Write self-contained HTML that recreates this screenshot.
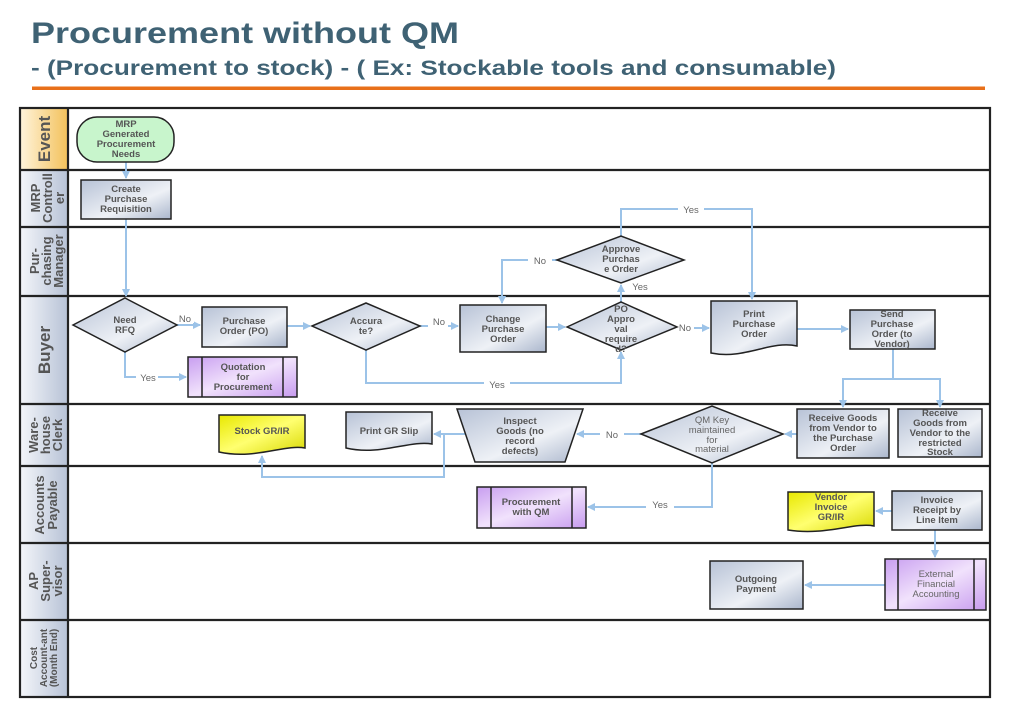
<!DOCTYPE html>
<html><head><meta charset="utf-8"><style>
html,body{margin:0;padding:0;background:#fff;}
svg{display:block;}
text{font-family:"Liberation Sans",sans-serif;}
.t{font-size:9.5px;font-weight:bold;fill:#555;text-anchor:middle;}
.l{font-size:9.5px;fill:#666;text-anchor:middle;}
.h{font-size:15px;font-weight:bold;fill:#555;text-anchor:middle;}
.c{stroke:#9cc3e8;stroke-width:2;fill:none;}
.s{stroke:#222;stroke-width:1.5;}
</style></head><body>
<svg width="1024" height="722" viewBox="0 0 1024 722" xmlns="http://www.w3.org/2000/svg">
<defs>
<linearGradient id="g" x1="0" y1="0" x2="1" y2="1"><stop offset="0" stop-color="#b7c2d6"/><stop offset="0.6" stop-color="#eef1f6"/><stop offset="1" stop-color="#aab6cc"/></linearGradient>
<linearGradient id="hd" x1="0" y1="0" x2="1" y2="0"><stop offset="0" stop-color="#f4f6fa"/><stop offset="1" stop-color="#b7c2d6"/></linearGradient>
<linearGradient id="ho" x1="0" y1="0" x2="1" y2="0"><stop offset="0" stop-color="#fff4dc"/><stop offset="1" stop-color="#f3c15a"/></linearGradient>
<linearGradient id="p" x1="0" y1="0" x2="1" y2="1"><stop offset="0" stop-color="#c89ef0"/><stop offset="0.5" stop-color="#f1e2fc"/><stop offset="1" stop-color="#c79bef"/></linearGradient>
<linearGradient id="y" x1="0" y1="0" x2="1" y2="1"><stop offset="0" stop-color="#e8e800"/><stop offset="0.5" stop-color="#ffff70"/><stop offset="1" stop-color="#d8d800"/></linearGradient>
<marker id="a" markerWidth="8" markerHeight="8" refX="7" refY="4" orient="auto" markerUnits="userSpaceOnUse"><path d="M0,0 L8,4 L0,8 z" fill="#9cc3e8"/></marker>
</defs>
<text x="31" y="43" font-size="30" font-weight="bold" fill="#3f6274" textLength="428" lengthAdjust="spacingAndGlyphs">Procurement without QM</text>
<text x="31" y="75" font-size="21" font-weight="bold" fill="#3f6274" textLength="805" lengthAdjust="spacingAndGlyphs">- (Procurement to stock) - ( Ex: Stockable tools and consumable)</text>
<rect x="32" y="86.5" width="953" height="3.5" fill="#e8701a"/>

<!-- headers -->
<rect x="20" y="108" width="48" height="62" fill="url(#ho)"/>
<rect x="20" y="170" width="48" height="527" fill="url(#hd)"/>
<g stroke="#222" stroke-width="2.2" fill="none">
<rect x="20" y="108" width="970" height="589"/>
<line x1="68" y1="108" x2="68" y2="697"/>
<line x1="20" y1="170" x2="990" y2="170"/><line x1="20" y1="227" x2="990" y2="227"/>
<line x1="20" y1="296" x2="990" y2="296"/><line x1="20" y1="404" x2="990" y2="404"/>
<line x1="20" y1="466" x2="990" y2="466"/><line x1="20" y1="543" x2="990" y2="543"/>
<line x1="20" y1="620" x2="990" y2="620"/>
</g>
<g class="h">
<text transform="translate(50,139) rotate(-90)" font-size="17">Event</text>
<text transform="translate(40,198) rotate(-90)" font-size="13">MRP</text>
<text transform="translate(52,198) rotate(-90)" font-size="13">Controll</text>
<text transform="translate(64,198) rotate(-90)" font-size="13">er</text>
<text transform="translate(39,261) rotate(-90)" font-size="13">Pur-</text>
<text transform="translate(51,261) rotate(-90)" font-size="13">chasing</text>
<text transform="translate(63,261) rotate(-90)" font-size="13">Manager</text>
<text transform="translate(50,350) rotate(-90)" font-size="17">Buyer</text>
<text transform="translate(38,435) rotate(-90)" font-size="13">Ware-</text>
<text transform="translate(50,435) rotate(-90)" font-size="13">house</text>
<text transform="translate(62,435) rotate(-90)" font-size="13">Clerk</text>
<text transform="translate(44,505) rotate(-90)" font-size="13">Accounts</text>
<text transform="translate(57,505) rotate(-90)" font-size="13">Payable</text>
<text transform="translate(38,581) rotate(-90)" font-size="13">AP</text>
<text transform="translate(50,581) rotate(-90)" font-size="13">Super-</text>
<text transform="translate(62,581) rotate(-90)" font-size="13">visor</text>
<text transform="translate(37,658) rotate(-90)" font-size="10">Cost</text>
<text transform="translate(47,658) rotate(-90)" font-size="10">Account-ant</text>
<text transform="translate(57,658) rotate(-90)" font-size="10">(Month End)</text>
</g>

<!-- connectors -->
<g class="c">
<line x1="126" y1="162" x2="126" y2="178" marker-end="url(#a)"/>
<line x1="126" y1="219" x2="126" y2="296" marker-end="url(#a)"/>
<line x1="177" y1="325" x2="200" y2="325" marker-end="url(#a)"/>
<polyline points="125,352 125,377 186,377" marker-end="url(#a)"/>
<line x1="287" y1="326" x2="310" y2="326" marker-end="url(#a)"/>
<line x1="420" y1="326" x2="458" y2="326" marker-end="url(#a)"/>
<polyline points="366,350 366,383 621,383 621,352" marker-end="url(#a)"/>
<line x1="546" y1="327" x2="565" y2="327" marker-end="url(#a)"/>
<line x1="621" y1="302" x2="621" y2="285" marker-end="url(#a)"/>
<polyline points="557,260 502,260 502,303" marker-end="url(#a)"/>
<polyline points="621,236 621,209 752,209 752,299" marker-end="url(#a)"/>
<line x1="677" y1="328" x2="709" y2="328" marker-end="url(#a)"/>
<line x1="797" y1="329" x2="848" y2="329" marker-end="url(#a)"/>
<polyline points="893,349 893,379 843,379 843,407" marker-end="url(#a)"/>
<polyline points="893,379 940,379 940,407" marker-end="url(#a)"/>
<line x1="797" y1="434" x2="785" y2="434" marker-end="url(#a)"/>
<line x1="641" y1="434" x2="577" y2="434" marker-end="url(#a)"/>
<line x1="467" y1="434" x2="434" y2="434" marker-end="url(#a)"/>
<polyline points="444,434 444,477 262,477 262,456" marker-end="url(#a)"/>
<polyline points="712,463 712,507 588,507" marker-end="url(#a)"/>
<line x1="892" y1="511" x2="876" y2="511" marker-end="url(#a)"/>
<polyline points="935,530 935,557" marker-end="url(#a)"/>
<line x1="885" y1="585" x2="805" y2="585" marker-end="url(#a)"/>
</g>
<g class="l">
<rect x="176" y="314" width="18" height="9" fill="#fff"/><text x="185" y="322">No</text>
<rect x="136" y="372" width="22" height="10" fill="#fff"/><text x="148" y="381">Yes</text>
<rect x="428" y="317" width="20" height="10" fill="#fff"/><text x="439" y="325">No</text>
<rect x="484" y="378" width="26" height="10" fill="#fff"/><text x="497" y="388">Yes</text>
<rect x="528" y="255" width="24" height="10" fill="#fff"/><text x="540" y="264">No</text>
<text x="640" y="290">Yes</text>
<rect x="678" y="204" width="26" height="10" fill="#fff"/><text x="691" y="213">Yes</text>
<rect x="676" y="323" width="18" height="10" fill="#fff"/><text x="685" y="331">No</text>
<rect x="600" y="429" width="24" height="10" fill="#fff"/><text x="612" y="438">No</text>
<rect x="646" y="500" width="28" height="10" fill="#fff"/><text x="660" y="508">Yes</text>
</g>

<!-- shapes -->
<rect x="77" y="117" width="97" height="45" rx="20" fill="#c8f5cc" class="s"/>
<text class="t" x="126" y="127">MRP</text><text class="t" x="126" y="137">Generated</text><text class="t" x="126" y="147">Procurement</text><text class="t" x="126" y="157">Needs</text>

<rect x="81" y="180" width="90" height="39" fill="url(#g)" class="s"/>
<text class="t" x="126" y="192">Create</text><text class="t" x="126" y="202">Purchase</text><text class="t" x="126" y="212">Requisition</text>

<polygon points="73,325 125,298 177,325 125,352" fill="url(#g)" class="s"/>
<text class="t" x="125" y="323">Need</text><text class="t" x="125" y="333">RFQ</text>

<rect x="202" y="307" width="85" height="40" fill="url(#g)" class="s"/>
<text class="t" x="244" y="324">Purchase</text><text class="t" x="244" y="334">Order (PO)</text>

<polygon points="312,326 366,303 420,326 366,350" fill="url(#g)" class="s"/>
<text class="t" x="366" y="324">Accura</text><text class="t" x="366" y="334">te?</text>

<rect x="188" y="357" width="109" height="40" fill="url(#p)" class="s"/>
<line x1="202" y1="357" x2="202" y2="397" class="s"/><line x1="283" y1="357" x2="283" y2="397" class="s"/>
<text class="t" x="243" y="370">Quotation</text><text class="t" x="243" y="380">for</text><text class="t" x="243" y="390">Procurement</text>

<rect x="460" y="305" width="86" height="47" fill="url(#g)" class="s"/>
<text class="t" x="503" y="322">Change</text><text class="t" x="503" y="332">Purchase</text><text class="t" x="503" y="342">Order</text>

<polygon points="567,327 621,302 677,327 621,350" fill="url(#g)" class="s"/>
<text class="t" x="621" y="312">PO</text><text class="t" x="621" y="322">Appro</text><text class="t" x="621" y="332">val</text><text class="t" x="621" y="342">require</text><text class="t" x="621" y="352">d?</text>

<polygon points="557,260 621,236 684,260 621,283" fill="url(#g)" class="s"/>
<text class="t" x="621" y="252">Approve</text><text class="t" x="621" y="262">Purchas</text><text class="t" x="621" y="272">e Order</text>

<path d="M711,301 H797 V346 C770,340 745,360 711,353 Z" fill="url(#g)" class="s"/>
<text class="t" x="754" y="317">Print</text><text class="t" x="754" y="327">Purchase</text><text class="t" x="754" y="337">Order</text>

<rect x="850" y="310" width="85" height="39" fill="url(#g)" class="s"/>
<text class="t" x="892" y="317">Send</text><text class="t" x="892" y="327">Purchase</text><text class="t" x="892" y="337">Order (to</text><text class="t" x="892" y="347">Vendor)</text>

<rect x="797" y="409" width="92" height="49" fill="url(#g)" class="s"/>
<text class="t" x="843" y="421">Receive Goods</text><text class="t" x="843" y="431">from Vendor to</text><text class="t" x="843" y="441">the Purchase</text><text class="t" x="843" y="451">Order</text>

<rect x="898" y="409" width="84" height="48" fill="url(#g)" class="s"/>
<text class="t" x="940" y="416">Receive</text><text class="t" x="940" y="426">Goods from</text><text class="t" x="940" y="436">Vendor to the</text><text class="t" x="940" y="446">restricted</text><text class="t" x="940" y="455">Stock</text>

<polygon points="641,434 712,406 783,434 712,463" fill="url(#g)" class="s"/>
<text class="l" x="712" y="423">QM Key</text><text class="l" x="712" y="433">maintained</text><text class="l" x="712" y="443">for</text><text class="l" x="712" y="452">material</text>

<polygon points="457,409 583,409 565,462 475,462" fill="url(#g)" class="s"/>
<text class="t" x="520" y="424">Inspect</text><text class="t" x="520" y="434">Goods (no</text><text class="t" x="520" y="444">record</text><text class="t" x="520" y="454">defects)</text>

<path d="M346,412 H432 V444 C410,440 380,456 346,448 Z" fill="url(#g)" class="s"/>
<text class="t" x="389" y="434">Print GR Slip</text>

<path d="M219,415 H305 V448 C285,444 255,460 219,452 Z" fill="url(#y)" class="s"/>
<text class="t" x="262" y="434">Stock GR/IR</text>

<rect x="477" y="487" width="109" height="41" fill="url(#p)" class="s"/>
<line x1="491" y1="487" x2="491" y2="528" class="s"/><line x1="572" y1="487" x2="572" y2="528" class="s"/>
<text class="t" x="531" y="505">Procurement</text><text class="t" x="531" y="515">with QM</text>

<path d="M788,492 H874 V526 C855,522 825,536 788,530 Z" fill="url(#y)" class="s"/>
<text class="t" x="831" y="500">Vendor</text><text class="t" x="831" y="510">Invoice</text><text class="t" x="831" y="520">GR/IR</text>

<rect x="892" y="491" width="90" height="39" fill="url(#g)" class="s"/>
<text class="t" x="937" y="503">Invoice</text><text class="t" x="937" y="513">Receipt by</text><text class="t" x="937" y="523">Line Item</text>

<rect x="885" y="559" width="101" height="51" fill="url(#p)" class="s"/>
<line x1="898" y1="559" x2="898" y2="610" class="s"/><line x1="974" y1="559" x2="974" y2="610" class="s"/>
<text class="l" x="936" y="577">External</text><text class="l" x="936" y="587">Financial</text><text class="l" x="936" y="597">Accounting</text>

<rect x="710" y="561" width="93" height="48" fill="url(#g)" class="s"/>
<text class="t" x="756" y="582">Outgoing</text><text class="t" x="756" y="592">Payment</text>
</svg>
</body></html>
